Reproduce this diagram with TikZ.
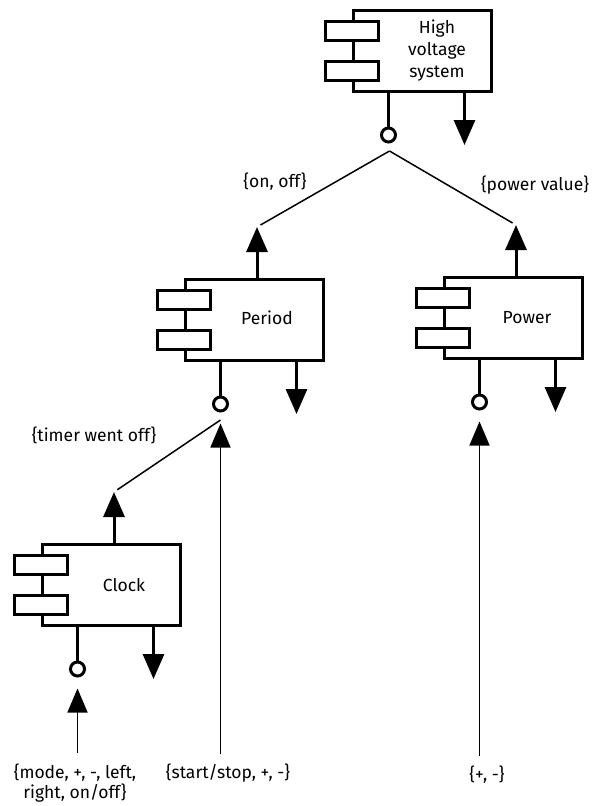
\documentclass[tikz,border=0pt]{standalone}
\usepackage{fontspec}
\setmainfont{Fira Sans}
\usetikzlibrary{arrows.meta, positioning, calc}

\begin{document}
\begin{tikzpicture}[x=1pt, y=-1pt,
    comp/.style={rectangle, draw, line width=3pt, minimum width=138pt,
                 minimum height=81pt, inner sep=0pt},
    port/.style={rectangle, draw, fill=white, line width=3pt,
                 minimum width=53pt, minimum height=19pt, inner sep=0pt},
    ball/.style={circle, draw, line width=3pt, minimum size=14pt, inner sep=0pt},
    comptext/.style={font=\fontsize{17.5}{22}\selectfont, align=center},
    stem/.style={line width=3pt},
    sig/.style={-{Triangle[length=25pt,width=21pt]}, line width=3pt},
    feed/.style={-{Triangle[length=24pt,width=20pt]}, line width=1.5pt,
                 shorten >=11pt, shorten <=8pt},
    wire/.style={line width=1.5pt, shorten >=4pt},
    lbl/.style={font=\fontsize{17.5}{20.5}\selectfont, align=center, inner sep=2pt}
]
\useasboundingbox (0,0) rectangle (592,806);

%% -- components -------------------------------------------------------------
\foreach \c/\x/\y in {hv/422/51, period/254/320, power/513/318, clock/111/585}{
  \node[comp] (\c) at (\x,\y) {};
  \node[port] (\c port1) at ($(\c.west)+(0,-20)$) {};
  \node[port] (\c port2) at ($(\c.west)+(0,20)$) {};
  \node[ball] (\c ball) at ($(\c.south west)+(37,42)$) {};
  \draw[stem] (\c.south -| \c ball) -- (\c ball);
  \coordinate (\c down) at ($(\c.south west)+(113,52)$);
  \draw[sig] (\c.south -| \c down) -- (\c down);
}

\node[comptext] (hvname)     at ($(hv)+(15,0)$)     {High\\voltage\\system};
\node[comptext] (periodname) at ($(period)+(13,-2)$) {Period};
\node[comptext] (powername)  at ($(power)+(14,0)$)  {Power};
\node[comptext] (clockname)  at ($(clock)+(13,0)$)  {Clock};

%% -- provided outputs -------------------------------------------------------
\foreach \c in {period, power, clock}{
  \coordinate (\c up) at ($(\c.north)+(3,-51)$);
  \draw[sig] (\c.north -| \c up) -- (\c up);
}

%% -- connections ------------------------------------------------------------
\coordinate (hvjoin)     at ($(hvball)+(1,16)$);
\coordinate (periodjoin) at ($(periodball)+(0,16)$);

\draw[wire] (hvjoin) -- (periodup);
\draw[wire] (hvjoin) -- (powerup);
\draw[wire] (periodjoin) -- (clockup);

\node[lbl] (onofflbl) at (275,182) {\{on, off\}};
\node[lbl] (powerlbl) at (535,185) {\{power value\}};
\node[lbl] (timerlbl) at (94,435)  {\{timer went off\}};

%% -- external inputs --------------------------------------------------------
\node[lbl] (modelbl)  at (75,783)  {\{mode, +, -, left,\\right, on/off\}};
\node[lbl] (startlbl) at (228,773) {\{start/stop, +, -\}};
\node[lbl] (pluslbl)  at (487,775) {\{+, -\}};

\draw[feed] (modelbl.north -| clockball) -- (clockball);
\draw[feed] (startlbl.north -| periodball) -- (periodball);
\draw[feed] (pluslbl.north -| powerball) -- (powerball);

\end{tikzpicture}
\end{document}
